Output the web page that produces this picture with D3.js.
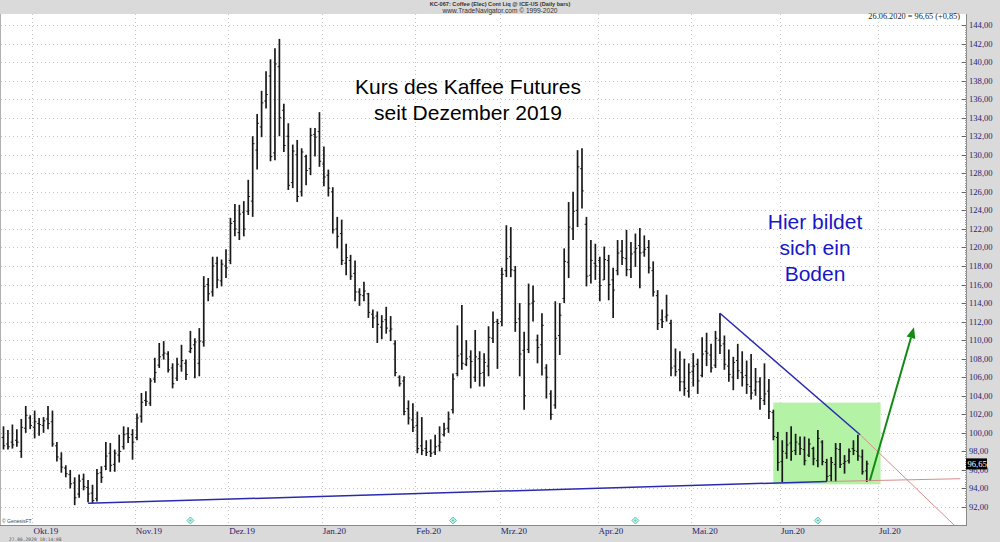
<!DOCTYPE html>
<html><head><meta charset="utf-8">
<script src="https://cdn.jsdelivr.net/npm/d3@7"></script>
<style>body{margin:0;background:#fff;}svg{display:block}</style>
</head><body><svg id="c" width="1000" height="542"></svg>
<script>
const highs = [100.7,100.3,100.9,100.4,101.5,102.9,101.9,102.4,101.6,101.7,102.9,102.4,
99.0,97.9,96.5,96.0,95.2,95.5,95.6,94.9,94.4,96.1,96.4,99.0,
98.9,98.2,99.8,100.7,100.6,100.4,102.1,104.3,104.5,105.9,108.1,109.7,
109.9,108.8,107.5,108.1,109.5,107.9,111.0,110.2,111.3,116.9,116.7,119.0,
119.0,118.7,119.8,123.2,124.7,124.6,125.0,127.3,132.0,134.4,136.9,139.0,
140.3,141.5,142.5,135.5,133.4,131.1,131.6,130.7,130.0,132.9,132.9,134.6,
130.9,128.4,126.5,123.3,123.0,120.4,119.2,118.6,115.6,116.3,115.1,113.3,
113.1,112.7,113.6,112.6,110.0,106.2,106.1,103.5,103.2,102.3,101.7,99.2,
99.3,99.8,100.7,101.1,102.3,106.4,111.6,113.8,110.0,108.9,111.1,108.8,
108.6,111.5,113.1,112.3,117.8,122.4,122.2,118.0,114.0,110.9,116.1,115.9,
110.6,112.9,107.4,104.6,114.2,114.0,119.9,124.9,126.0,130.5,130.7,123.3,
120.8,120.4,119.0,120.1,119.2,117.8,120.8,120.8,121.9,120.6,121.5,122.1,
121.3,120.8,118.5,115.4,113.3,114.9,112.2,109.1,108.8,108.0,107.5,108.6,
108.0,110.3,110.8,109.6,111.0,112.9,110.5,109.0,108.2,109.6,108.8,107.8,
108.5,107.0,106.0,107.5,105.8,102.5,100.1,99.2,100.1,100.7,99.9,99.6,
99.6,99.4,98.5,100.3,99.2,97.2,97.4,98.9,98.9,97.6,98.3,99.2,
99.8,98.2,97.0];
const lows = [98.2,98.2,98.3,98.5,97.3,100.0,100.4,99.4,99.7,100.0,100.4,98.5,
96.9,95.7,95.2,94.0,92.2,93.0,93.8,92.5,92.4,92.6,94.6,96.0,
95.8,95.8,96.8,98.2,98.9,97.1,99.2,101.1,102.9,102.9,105.4,107.0,
107.9,106.5,104.8,105.6,106.6,105.7,108.6,105.9,106.1,109.3,114.2,114.7,
115.6,115.8,116.7,118.2,121.2,120.8,121.2,123.5,123.3,128.4,131.9,135.0,
129.3,129.4,132.0,130.3,126.2,126.4,124.9,125.5,126.7,127.8,129.8,128.7,
126.6,125.5,121.5,119.9,118.1,117.0,116.5,114.2,113.7,114.2,112.4,111.3,
109.7,110.1,110.7,109.9,106.1,105.0,101.9,100.9,100.1,97.8,97.6,97.5,
97.4,97.6,98.0,99.6,100.0,102.1,106.1,106.8,107.2,104.8,105.5,105.0,
105.0,106.1,109.7,106.9,111.5,116.8,116.8,110.9,106.1,102.5,108.6,112.0,
107.5,106.2,103.7,101.4,102.6,108.4,114.0,116.7,120.8,122.2,124.2,115.8,
116.1,116.5,114.2,116.5,114.3,112.4,117.0,118.1,116.9,116.7,117.9,115.6,
119.0,117.2,114.7,111.1,111.3,112.0,106.1,106.1,104.5,104.0,103.8,105.0,
104.2,106.0,107.2,106.5,107.0,108.5,106.8,105.5,104.6,105.8,105.0,104.2,
103.6,104.0,102.5,103.0,101.5,99.2,95.9,94.7,97.2,97.0,97.6,97.6,
96.5,97.4,96.5,96.3,96.5,94.7,94.7,94.7,96.2,95.6,96.7,97.6,
97.0,95.5,94.7];
const opens = [99.5,98.8,99.0,99.2,98.0,100.5,101.6,100.6,101.0,100.8,101.5,101.2,
98.6,97.2,96.2,95.5,94.6,93.4,95.0,94.1,93.5,92.9,95.7,96.4,
97.8,96.6,97.6,98.5,99.9,99.8,99.5,101.8,103.5,103.2,105.8,107.3,
108.4,108.5,107.0,105.9,107.2,107.5,108.8,109.5,107.5,109.8,116.0,115.2,
118.3,116.4,118.0,118.6,122.8,121.6,123.8,123.9,125.0,130.5,133.0,135.8,
138.5,130.2,139.5,134.8,132.0,127.0,130.0,126.0,129.8,128.5,132.2,132.5,
129.0,127.8,126.0,122.0,121.5,118.3,118.6,117.2,115.2,114.8,115.0,112.8,
112.6,111.4,112.2,111.0,109.6,106.0,105.6,102.6,101.4,100.8,98.6,98.3,
98.0,97.9,98.6,99.8,100.5,102.5,106.4,108.5,107.4,108.2,106.0,108.0,
106.5,107.2,110.2,112.0,112.0,117.5,119.0,117.5,112.3,108.9,109.0,114.0,
110.0,109.5,107.0,104.2,103.0,110.5,114.5,118.4,122.0,124.0,128.5,122.5,
117.0,118.3,118.6,116.5,118.6,116.5,117.5,119.6,118.8,117.6,119.5,120.2,
119.5,120.0,117.5,114.8,112.2,112.5,111.8,107.2,106.8,105.5,104.5,106.6,
107.4,106.2,108.8,108.4,107.3,110.0,109.6,107.2,106.0,107.8,106.5,106.2,
105.0,104.6,105.5,103.5,104.5,102.2,99.5,96.9,97.8,98.9,98.1,98.8,
98.2,97.6,98.3,97.0,99.0,96.8,95.4,96.6,98.2,96.7,97.0,98.3,
98.0,97.4,95.9];
const closes = [98.6,98.5,98.7,99.0,100.6,101.9,100.8,101.2,100.9,101.3,101.0,98.8,
97.4,96.3,95.6,94.5,93.0,94.8,94.2,93.4,92.7,95.6,95.2,97.5,
96.5,97.8,98.0,99.8,99.5,99.0,101.6,103.3,103.4,105.6,106.5,108.2,
108.6,106.8,105.3,107.4,107.8,106.3,109.1,109.8,109.9,115.8,115.0,118.0,
116.5,118.2,117.8,122.6,122.0,123.6,122.0,125.5,131.2,133.4,135.6,136.5,
129.8,139.8,134.0,131.0,126.7,130.4,125.5,130.3,128.3,132.1,131.9,129.3,
127.6,126.4,121.9,121.2,118.6,118.9,116.9,115.2,114.9,115.3,113.0,112.4,
111.7,112.0,111.3,111.2,106.5,105.3,102.3,101.6,100.6,98.3,98.1,97.9,
97.8,98.5,99.0,100.4,101.5,105.8,108.3,107.5,108.0,107.7,108.2,106.4,
107.6,110.3,111.9,111.8,117.1,118.8,117.6,111.9,108.5,104.0,113.9,114.2,
109.2,111.6,106.0,102.0,110.2,112.7,118.5,122.2,123.9,128.7,126.1,116.9,
118.6,118.0,115.9,118.7,116.0,115.4,119.4,118.9,117.6,119.3,119.9,119.4,
119.8,117.8,115.2,111.8,112.0,112.7,107.0,106.6,105.5,104.8,106.5,107.2,
105.6,108.5,108.6,107.0,110.2,109.4,107.4,106.3,107.6,106.7,106.0,105.2,
104.3,105.5,103.7,104.2,102.3,99.6,96.8,98.0,98.7,98.0,99.0,98.3,
97.0,98.8,97.2,99.4,96.9,95.3,96.8,98.3,96.6,96.9,98.0,98.1,
97.5,95.8,96.65];

const monthLabels = ["Okt.19","Nov.19","Dez.19","Jan.20","Feb.20","Mrz.20","Apr.20","Mai.20","Jun.20","Jul.20"];
const monthIdx = [7,30,51,72,93,112,134,155,175,197];
const yTickValues = [92,94,96,98,100,102,104,106,108,110,112,114,116,118,120,122,124,126,128,130,132,134,136,138,140,142,144];
const markerIdx = [42,101,142,183];
const supportLine = [[19,92.4],[185,94.75]];
const supportExt = [[185,94.75],[215,95.05]];
const resistLine = [[161,112.9],[192.5,99.8]];
const resistExt = [[192.5,99.8],[217,88.5]];
const boxIdx = [173,197.1];
const boxPrice = [94.45,103.26];
const arrowPts = [[194.7,94.85],[204.6,111.4]];
const lastPrice = 96.65;

const W=1000,H=542, plotL=0, plotR=966, plotT=14, plotB=525;
const svg=d3.select("#c");
const x=d3.scaleLinear().domain([0,194]).range([3.5,866.8]);
const y=d3.scaleLinear().domain([92,144]).range([507,25]);
const serif="'Liberation Serif','Times New Roman',serif";
const sans="'Liberation Sans',Arial,sans-serif";

svg.append("rect").attr("width",W).attr("height",H).attr("fill","#dadada");
svg.append("rect").attr("x",plotL+1).attr("y",plotT).attr("width",plotR-plotL-1).attr("height",plotB-plotT).attr("fill","#fff");
svg.append("line").attr("x1",0.5).attr("x2",0.5).attr("y1",plotT).attr("y2",plotB).attr("stroke","#b0b0b0");
svg.append("line").attr("x1",0).attr("x2",plotR).attr("y1",plotB+0.5).attr("y2",plotB+0.5).attr("stroke","#888");

svg.append("defs").append("clipPath").attr("id","pc").append("rect")
  .attr("x",1).attr("y",plotT).attr("width",plotR-1).attr("height",plotB-plotT);

// grid
const g=svg.append("g").attr("clip-path","url(#pc)");
g.selectAll(".hg").data(yTickValues).join("line")
  .attr("x1",1).attr("x2",plotR).attr("y1",d=>Math.round(y(d))+0.5).attr("y2",d=>Math.round(y(d))+0.5)
  .attr("stroke","#c4c4c4").attr("stroke-dasharray","1,3");
g.selectAll(".vg").data(monthIdx).join("line")
  .attr("x1",d=>Math.round(x(d-0.5))+0.5).attr("x2",d=>Math.round(x(d-0.5))+0.5).attr("y1",plotT).attr("y2",plotB)
  .attr("stroke","#c4c4c4").attr("stroke-dasharray","1,3");

// green box
g.append("rect").attr("x",x(boxIdx[0])).attr("y",y(boxPrice[1]))
  .attr("width",x(boxIdx[1])-x(boxIdx[0])).attr("height",y(boxPrice[0])-y(boxPrice[1]))
  .attr("fill","#b4f2a6");

// bars
const idx=d3.range(highs.length);
const bars=g.append("g").attr("stroke","#1a1a1a");
bars.selectAll(".hl").data(idx).join("line")
  .attr("x1",i=>x(i)).attr("x2",i=>x(i)).attr("y1",i=>y(highs[i])).attr("y2",i=>y(lows[i]))
  .attr("stroke-width",1.7);
bars.selectAll(".op").data(idx).join("line")
  .attr("x1",i=>x(i)-1.8).attr("x2",i=>x(i)).attr("y1",i=>y(opens[i])).attr("y2",i=>y(opens[i]))
  .attr("stroke-width",1);
bars.selectAll(".cl").data(idx).join("line")
  .attr("x1",i=>x(i)).attr("x2",i=>x(i)+1.8).attr("y1",i=>y(closes[i])).attr("y2",i=>y(closes[i]))
  .attr("stroke-width",1);

// trend lines
const ln=d3.line().x(d=>x(d[0])).y(d=>y(d[1]));
g.append("path").attr("d",ln(supportExt)).attr("stroke","#d98c8c").attr("stroke-width",1).attr("fill","none");
g.append("path").attr("d",ln(resistExt)).attr("stroke","#d98c8c").attr("stroke-width",1).attr("fill","none");
g.append("path").attr("d",ln(supportLine)).attr("stroke","#2a2ab0").attr("stroke-width",1.5).attr("fill","none");
g.append("path").attr("d",ln(resistLine)).attr("stroke","#2a2ab0").attr("stroke-width",1.5).attr("fill","none");

// arrow
const ax0=x(arrowPts[0][0]),ay0=y(arrowPts[0][1]),ax1=x(arrowPts[1][0]),ay1=y(arrowPts[1][1]);
const ang=Math.atan2(ay1-ay0,ax1-ax0), hl=11, hw=4.5;
const bx=ax1-hl*Math.cos(ang), by=ay1-hl*Math.sin(ang);
g.append("line").attr("x1",ax0).attr("y1",ay0).attr("x2",bx).attr("y2",by).attr("stroke","#138a13").attr("stroke-width",2);
g.append("path").attr("d",`M${ax1},${ay1}L${bx-hw*Math.sin(ang)},${by+hw*Math.cos(ang)}L${bx+hw*Math.sin(ang)},${by-hw*Math.cos(ang)}Z`).attr("fill","#138a13");

// markers
const mk=g.selectAll(".mk").data(markerIdx).join("g").attr("transform",i=>`translate(${x(i)},520.5)`);
mk.append("path").attr("d","M0,-3.5L3.5,0L0,3.5L-3.5,0Z").attr("fill","#c8efe8").attr("stroke","#5cc6b4").attr("stroke-width",1);
mk.append("path").attr("d","M0,-1.3L1.3,0L0,1.3L-1.3,0Z").attr("fill","#5cc6b4");

// titles
svg.append("text").attr("x",468).attr("y",94).attr("text-anchor","middle").attr("font-family",sans).attr("font-size",21).attr("fill","#000").text("Kurs des Kaffee Futures");
svg.append("text").attr("x",468).attr("y",120).attr("text-anchor","middle").attr("font-family",sans).attr("font-size",21).attr("fill","#000").text("seit Dezember 2019");
["Hier bildet","sich ein","Boden"].forEach((t,k)=>{
  svg.append("text").attr("x",815).attr("y",229+k*26).attr("text-anchor","middle").attr("font-family",sans).attr("font-size",21).attr("fill","#1717c8").text(t);
});

// header
svg.append("rect").attr("x",0).attr("y",0).attr("width",W).attr("height",plotT).attr("fill","#dadada");
svg.append("text").attr("x",500).attr("y",6.3).attr("text-anchor","middle").attr("font-family",sans).attr("font-size",5.6).attr("font-weight","bold").attr("fill","#333").text("KC-067:  Coffee (Elec) Cont Liq @ ICE-US  (Daily bars)");
svg.append("text").attr("x",500).attr("y",12.8).attr("text-anchor","middle").attr("font-family",sans).attr("font-size",6.6).attr("fill","#333").text("www.TradeNavigator.com © 1999-2020");
svg.append("text").attr("x",960).attr("y",19).attr("text-anchor","end").attr("font-family",serif).attr("font-size",8.3).attr("fill","#222").text("26.06.2020 = 96,65 (+0,85)");

// right axis
svg.append("line").attr("x1",plotR+0.5).attr("x2",plotR+0.5).attr("y1",plotT).attr("y2",plotB+1).attr("stroke","#8a8a8a");
const minor=d3.range(92*4,144*4+1).map(v=>v/4);
svg.selectAll(".mt").data(minor).join("line").attr("x1",plotR-1).attr("x2",plotR+0.5)
  .attr("y1",d=>Math.round(y(d))+0.5).attr("y2",d=>Math.round(y(d))+0.5).attr("stroke","#a0a0a0");
svg.selectAll(".yt").data(yTickValues).join("line").attr("x1",plotR-4).attr("x2",plotR)
  .attr("y1",d=>Math.round(y(d))+0.5).attr("y2",d=>Math.round(y(d))+0.5).attr("stroke","#666");
const fmt=d=>d3.format(".2f")(d).replace(".",",");
svg.selectAll(".yl").data(yTickValues).join("text").attr("x",969).attr("y",d=>Math.max(y(d),19)+3)
  .attr("font-family",serif).attr("font-size",8.6).attr("fill","#23236e").text(fmt);
svg.append("rect").attr("x",plotR).attr("y",y(lastPrice)-5.5).attr("width",21).attr("height",11).attr("fill","#000");
svg.append("text").attr("x",plotR+1.5).attr("y",y(lastPrice)+3).attr("font-family",serif).attr("font-size",8.6).attr("fill","#fff").text(fmt(lastPrice));

// x labels
svg.selectAll(".xl").data(monthIdx).join("text").attr("x",i=>x(i-0.5)+1).attr("y",534)
  .attr("font-family",serif).attr("font-size",9).attr("fill","#23236e").text((d,k)=>monthLabels[k]);

svg.append("text").attr("x",2).attr("y",523).attr("font-family",sans).attr("font-size",5).attr("fill","#444").text("© GenesisFT");
svg.append("text").attr("x",9).attr("y",540.5).attr("font-family","'DejaVu Sans Mono',monospace").attr("font-size",4.6).attr("fill","#555").text("27.06.2020 10:14:08");
</script></body></html>
